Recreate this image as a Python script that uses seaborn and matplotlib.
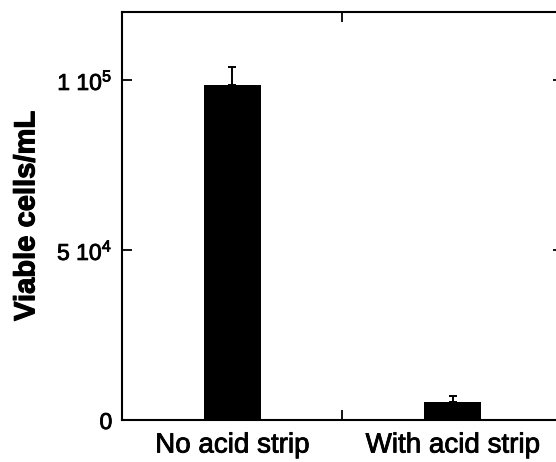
import matplotlib
matplotlib.use("Agg")
import matplotlib.pyplot as plt
import matplotlib.patheffects as pe
import seaborn as sns
import pandas as pd

# Viable cell counts with and without the acid strip
conditions = ["No acid strip", "With acid strip"]
viable_cells = [98500, 5400]
viable_err = [5300, 1650]
ytick_values = [0, 50000, 100000]
ytick_labels = ["0", "5 10$^{4}$", "1 10$^{5}$"]

sns.set_theme(style="ticks")
plt.rcParams["font.family"] = ["Liberation Sans", "DejaVu Sans"]
plt.rcParams["mathtext.default"] = "regular"
for key in ["text.color", "axes.labelcolor", "xtick.color", "ytick.color",
            "axes.edgecolor"]:
    plt.rcParams[key] = "black"

df = pd.DataFrame({"condition": conditions, "cells": viable_cells})

fig = plt.figure(figsize=(5.56, 4.62), dpi=100)
ax = fig.add_axes([0.2194, 0.0909, 0.7932, 0.8831])

sns.barplot(data=df, x="condition", y="cells", color="black",
            width=0.26, errorbar=None, saturation=1, ax=ax,
            edgecolor="black", linewidth=0)

# upper-only error bars
ax.errorbar(x=range(len(conditions)), y=viable_cells,
            yerr=[[0] * len(viable_err), viable_err],
            fmt="none", ecolor="black", elinewidth=1.4,
            capsize=3.2, capthick=1.4, zorder=3)

ax.set_xlim(-0.5, 1.5)
ax.set_ylim(0, 120000)

# single divider tick between the two groups; labels sit under the bars
ax.set_xticks([0.5])
ax.set_xticklabels([""])
ax.set_xticks([0, 1], minor=True)
ax.set_xticklabels(conditions, minor=True, fontsize=20)
ax.tick_params(axis="x", which="minor", length=0, pad=9, labelcolor="black")
ax.tick_params(axis="x", which="major", direction="in", length=7,
               width=1.3, top=True, bottom=True, color="black")

ax.set_yticks(ytick_values)
ax.set_yticklabels(ytick_labels, fontsize=16.5)
ax.tick_params(axis="y", direction="in", length=7, width=1.3,
               left=True, right=True, color="black", labelcolor="black", pad=7)

ax.set_xlabel("")
ax.set_ylabel("Viable cells/mL", fontsize=21, labelpad=12, color="black")
ax.yaxis.label.set_fontweight("bold")
ax.yaxis.label.set_path_effects([pe.withStroke(linewidth=0.8, foreground="black")])

# slightly heavier tick label strokes
stroke = [pe.withStroke(linewidth=0.6, foreground="black")]
for lbl in ax.get_xticklabels(minor=True) + ax.get_yticklabels():
    lbl.set_path_effects(stroke)

for side in ["left", "right", "top", "bottom"]:
    ax.spines[side].set_visible(True)
    ax.spines[side].set_color("black")
    ax.spines[side].set_linewidth(1.5)

fig.savefig("out.png", dpi=100, facecolor="white")
